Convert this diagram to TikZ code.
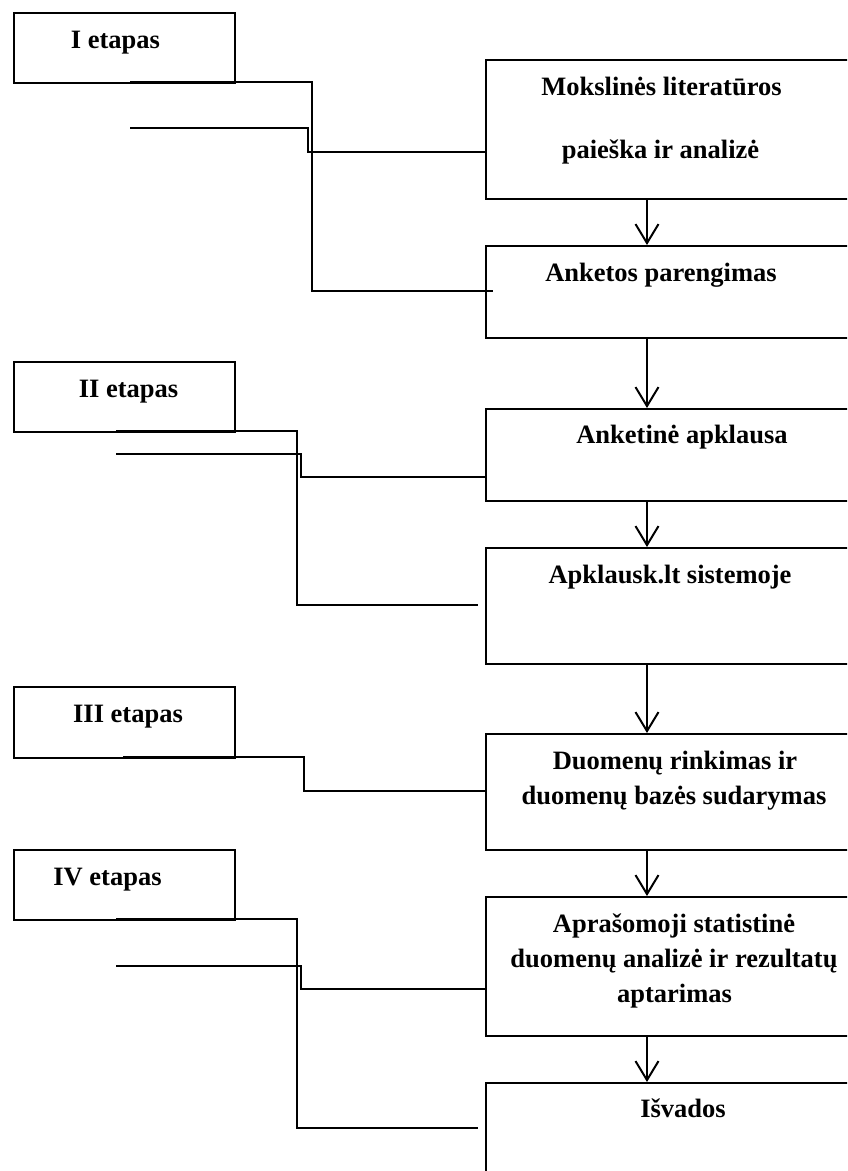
\documentclass[tikz,border=0pt]{standalone}
\usepackage{fontspec}
\setmainfont{Liberation Serif}
\usetikzlibrary{arrows.meta}
\begin{document}
\begin{tikzpicture}[x=1pt,y=-1pt,
  stagebox/.style={draw, line width=1.5pt, anchor=north west, inner sep=0pt, minimum width=221pt},
  stepbox/.style={draw, line width=1.5pt, anchor=north west, inner sep=0pt, minimum width=420pt},
  lbl/.style={anchor=base, inner sep=0pt, font=\fontsize{26.5}{32}\selectfont\bfseries},
  conn/.style={line width=1.5pt},
  flow/.style={line width=2pt, -{Straight Barb[length=19pt,width=23pt,line width=2pt]}}
]
\useasboundingbox (0,0) rectangle (847,1171);
\clip (0,0) rectangle (847,1171);
% stage boxes
\node[stagebox, minimum height=70pt] (e1) at (13,12) {};
\node[stagebox, minimum height=70pt] (e2) at (13,361) {};
\node[stagebox, minimum height=71pt] (e3) at (13,686) {};
\node[stagebox, minimum height=70pt] (e4) at (13,849) {};
\node[lbl] (e1t) at (115.5,48) {I etapas};
\node[lbl] (e2t) at (128.5,397) {II etapas};
\node[lbl] (e3t) at (128,722) {III etapas};
\node[lbl] (e4t) at (107.5,885) {IV etapas};
% step boxes
\node[stepbox, minimum height=139pt] (b1) at (485,59) {};
\node[stepbox, minimum height=92pt] (b2) at (485,245) {};
\node[stepbox, minimum height=92pt] (b3) at (485,408) {};
\node[stepbox, minimum height=116pt] (b4) at (485,547) {};
\node[stepbox, minimum height=116pt] (b5) at (485,733) {};
\node[stepbox, minimum height=139pt] (b6) at (485,896) {};
\node[stepbox, minimum height=160pt] (b7) at (485,1082) {};
\node[lbl] (b1t1) at (661.5,95) {Mokslinės literatūros};
\node[lbl] (b1t2) at (660.5,158) {paieška ir analizė};
\node[lbl] (b2t) at (661,281) {Anketos parengimas};
\node[lbl] (b3t) at (682,443) {Anketinė apklausa};
\node[lbl] (b4t) at (670,583) {Apklausk.lt sistemoje};
\node[lbl] (b5t1) at (675,769) {Duomenų rinkimas ir};
\node[lbl] (b5t2) at (674,804) {duomenų bazės sudarymas};
\node[lbl] (b6t1) at (674,932) {Aprašomoji statistinė};
\node[lbl] (b6t2) at (674,967) {duomenų analizė ir rezultatų};
\node[lbl] (b6t3) at (674.5,1002) {aptarimas};
\node[lbl] (b7t) at (683,1117) {Išvados};
% flow arrows
\foreach \a/\b in {b1/b2,b2/b3,b3/b4,b4/b5,b5/b6,b6/b7}
  \draw[flow] (647,0 |- \a.south) -- (647,0 |- \b.north);
% free ends of connectors
\coordinate (s1a) at (130,82);  \coordinate (s1b) at (130,128);
\coordinate (s2a) at (116,431); \coordinate (s2b) at (116,454);
\coordinate (s3a) at (123,757);
\coordinate (s4a) at (116,919); \coordinate (s4b) at (116,966);
% stage I
\draw[conn] (s1a) -- (312,82) -- (312,291) -- ([xshift=8pt]b2.west |- 0,291);
\draw[conn] (s1b) -- (308,128) -- (308,152) -- (b1.west |- 0,152);
% stage II
\draw[conn] (s2a) -- (297,431) -- (297,605) -- ([xshift=-7pt]b4.west |- 0,605);
\draw[conn] (s2b) -- (301,454) -- (301,477) -- (b3.west |- 0,477);
% stage III
\draw[conn] (s3a) -- (304,757) -- (304,791) -- (b5.west |- 0,791);
% stage IV
\draw[conn] (s4a) -- (297,919) -- (297,1128) -- ([xshift=-7pt]b7.west |- 0,1128);
\draw[conn] (s4b) -- (301,966) -- (301,989) -- (b6.west |- 0,989);
\end{tikzpicture}
\end{document}
